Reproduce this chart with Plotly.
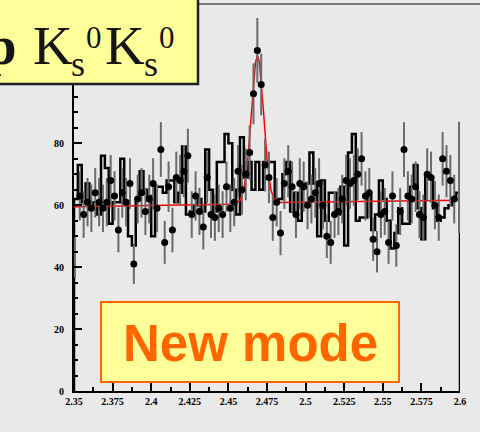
import numpy as np
import plotly.graph_objects as go

# ---- binning: 100 bins of 2.5 MeV between 2.35 and 2.60 GeV ----
x_lo, x_hi, n_bins = 2.35, 2.60, 100

# event counts per bin (points with error bars); first and last bins sit on the frame
data_counts = [
    43, 63, 57, 61, 59, 64, 61, 59, 61, 68,
    63, 52, 64, 61, 67, 41, 62, 64, 58, 62,
    67, 59, 78, 48, 66, 52, 69, 68, 71, 76,
    57, 63, 58, 53, 69, 57, 56, 59, 57, 66,
    59, 61, 71, 65, 70, 77, 96, 110, 99, 73,
    69, 56, 61, 51, 67, 71, 66, 57, 67, 66,
    60, 62, 64, 67, 60, 50, 48, 57, 58, 62,
    68, 67, 68, 70, 75, 63, 64, 49, 45, 57,
    58, 48, 63, 47, 58, 78, 63, 62, 66, 57,
    56, 70, 69, 60, 56, 75, 71, 68, 62, 69,
]
# error bars of the two frame-edge bins
edge_errors = [6.5, 18.0]

# reference histogram (step outline)
hist_counts = [
    62, 73, 61, 67, 59, 61, 57, 76, 72, 54,
    61, 61, 75, 61, 50, 47, 62, 71, 65, 63,
    50, 66, 66, 64, 68, 68, 61, 64, 79, 57,
    58, 60, 62, 58, 78, 65, 58, 74, 74, 83,
    80, 65, 57, 82, 69, 74, 65, 74, 65, 74,
    74, 74, 62, 62, 70, 74, 58, 64, 55, 67,
    67, 77, 67, 50, 68, 55, 64, 64, 57, 66,
    47, 77, 83, 55, 56, 56, 63, 52, 57, 68,
    62, 55, 46, 51, 59, 54, 54, 66, 73, 59,
    49, 70, 69, 59, 55, 56, 59, 60, 62, 64,
]

# fitted signal + background curve, sampled points (mass, entries)
fit_mass = [2.35, 2.40, 2.45, 2.4575, 2.46, 2.4625, 2.465, 2.4675, 2.4688,
            2.47, 2.4725, 2.475, 2.4775, 2.48, 2.4825, 2.60]
fit_vals = [59.5, 59.9, 60.3, 61.4, 64.8, 74.4, 91.1, 106.0, 108.4,
            106.4, 91.8, 75.0, 65.0, 61.5, 60.9, 61.6]

# axis ticks
x_tick_vals = [2.35, 2.375, 2.4, 2.425, 2.45, 2.475, 2.5, 2.525, 2.55, 2.575, 2.6]
x_tick_text = ["2.35", "2.375", "2.4", "2.425", "2.45", "2.475", "2.5",
               "2.525", "2.55", "2.575", "2.6"]
y_tick_vals = [0, 20, 40, 60, 80]

width = (x_hi - x_lo) / n_bins
edges = x_lo + width * np.arange(n_bins + 1)
centers = edges[:-1] + width / 2
counts = np.array(data_counts, dtype=float)
errors = np.sqrt(counts)

W, H = 480, 432
M_L, M_R, M_T, M_B = 74, 20, 4, 41
BG = "#e9e9e9"


def px_x(p):
    """pixel column -> paper x"""
    return (p - M_L) / (W - M_L - M_R)


def px_y(p):
    """pixel row -> paper y"""
    return (H - M_B - p) / (H - M_T - M_B)


fig = go.Figure()

# histogram outline
hx = np.concatenate([[x_lo], edges[:-1], [x_hi, x_hi]])
hy = np.concatenate([[0], hist_counts, [hist_counts[-1], 0]])
fig.add_trace(go.Scatter(x=hx, y=hy, mode="lines", line_shape="hv",
                         line=dict(color="black", width=2.5), hoverinfo="skip"))

# fit curve
fig.add_trace(go.Scatter(x=fit_mass, y=fit_vals, mode="lines",
                         line=dict(color="#ff0000", width=1.5), hoverinfo="skip"))

# frame-edge bins: error bar only (marker falls on the frame)
fig.add_trace(go.Scatter(
    x=[x_lo + 0.0006, x_hi - 0.0006], y=[counts[0], counts[-1]], mode="markers",
    marker=dict(size=1, color="rgba(0,0,0,0)"),
    error_y=dict(type="data", array=edge_errors, color="#6a6a6a",
                 thickness=2, width=0),
))

# data points
inner = slice(1, n_bins - 1)
fig.add_trace(go.Scatter(
    x=centers[inner], y=counts[inner], mode="markers",
    marker=dict(size=7, color="black"),
    error_y=dict(type="data", array=errors[inner], color="#6a6a6a",
                 thickness=2, width=0),
))

tick_font = dict(family="Liberation Serif", size=10, color="black", weight="bold")

fig.update_layout(
    width=W, height=H,
    margin=dict(l=M_L, r=M_R, t=M_T, b=M_B),
    paper_bgcolor=BG, plot_bgcolor=BG,
    showlegend=False,
    xaxis=dict(range=[x_lo, x_hi], showgrid=False, zeroline=False,
               showline=True, linecolor="black", linewidth=2,
               ticks="inside", ticklen=8, tickwidth=1.5, tickcolor="black",
               tickvals=x_tick_vals, ticktext=x_tick_text, tickfont=tick_font,
               minor=dict(dtick=0.0125, tick0=2.35, ticks="inside", ticklen=4,
                          tickwidth=1.5, tickcolor="black", showgrid=False)),
    yaxis=dict(range=[0, 125], showgrid=False, zeroline=False,
               showline=True, linecolor="black", linewidth=2,
               ticks="inside", ticklen=8, tickwidth=1.5, tickcolor="black",
               tickvals=y_tick_vals, tickfont=tick_font, ticklabelstandoff=6,
               minor=dict(dtick=5, tick0=0, ticks="inside", ticklen=4,
                          tickwidth=1.5, tickcolor="black", showgrid=False)),
)

# top rule line
fig.add_shape(type="line", xref="paper", yref="paper",
              x0=-0.3, x1=1.1, y0=1.0, y1=1.0,
              line=dict(color="#7a7a7a", width=2), layer="above")

# title box
fig.add_shape(type="rect", xref="paper", yref="paper",
              x0=px_x(-6), x1=px_x(198), y0=px_y(84), y1=px_y(-6),
              fillcolor="#ffff99", line=dict(color="#222222", width=2.5),
              layer="above")

# title pieces: (text, left/right pixel, top pixel, size, anchor)
title_color = "#151515"
title_pieces = [
    ("<b>p</b>", 17, 15.0, 55, "right"),
    ("K", 32.5, 15.0, 55, "left"),
    ("s", 71, 43.9, 36, "left"),
    ("0", 86.3, 20.4, 31, "left"),
    ("K", 104.5, 15.0, 55, "left"),
    ("s", 144, 43.9, 36, "left"),
    ("0", 159.3, 20.4, 31, "left"),
]
for txt, px, py, size, anchor in title_pieces:
    fig.add_annotation(xref="paper", yref="paper", x=px_x(px), y=px_y(py),
                       xanchor=anchor, yanchor="top", showarrow=False,
                       text=txt, borderpad=0, borderwidth=0,
                       font=dict(family="Liberation Serif", size=size,
                                 color=title_color))

# "New mode" box
fig.add_shape(type="rect", xref="paper", yref="paper",
              x0=px_x(101), x1=px_x(399), y0=px_y(382), y1=px_y(302),
              fillcolor="#ffff99", line=dict(color="#ff6600", width=2),
              layer="above")
fig.add_annotation(xref="paper", yref="paper", x=px_x(250), y=px_y(343.5),
                   xanchor="center", yanchor="middle", showarrow=False,
                   text="<b>New mode</b>",
                   font=dict(family="Liberation Sans", size=51, color="#ff6600"))

fig.write_html("out.html")
